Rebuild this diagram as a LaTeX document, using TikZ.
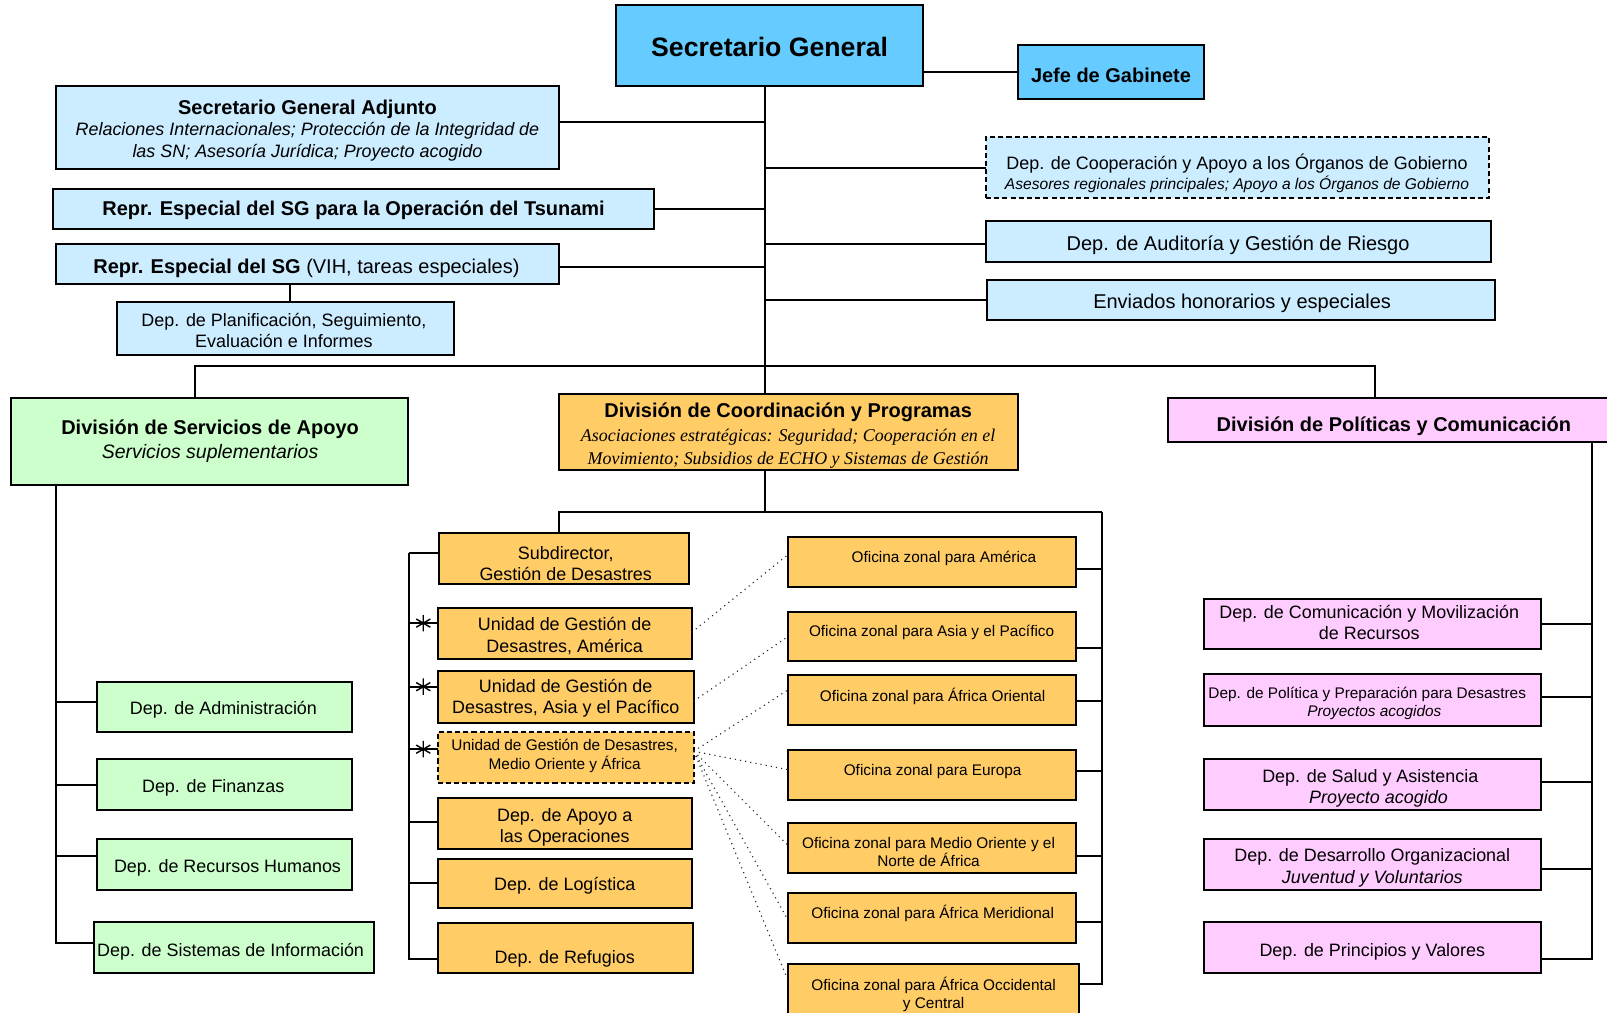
\documentclass[tikz,border=0pt]{standalone}
\usepackage{fontspec}
\setmainfont{Liberation Sans}
\newfontfamily\tms{Liberation Serif}
\usetikzlibrary{calc}
\definecolor{sgblue}{HTML}{66CCFF}
\definecolor{ltblue}{HTML}{CCECFF}
\definecolor{ltgreen}{HTML}{CCFFCC}
\definecolor{orng}{HTML}{FFCC66}
\definecolor{pnk}{HTML}{FFCCFF}
\newcommand\fsz[2]{\fontsize{#1}{#2}\selectfont}
\newcommand\bfB{\fsz{9.75}{11}\bfseries}
\newcommand\rgB{\fsz{9.75}{11}}
\newcommand\rgA{\fsz{8.75}{10.5}}
\newcommand\smA{\fsz{7.5}{9}}
\newcommand\mkbox[6]{\node[#2, minimum width={(#5-#3)*0.5pt}, minimum height={(#6-#4)*0.5pt}] (#1) at (#3,#4) {};}
\tikzset{
  bx/.style={draw, line width=1pt, inner sep=0pt, outer sep=0pt, anchor=north west},
  sgbox/.style={bx, fill=sgblue},
  ltbox/.style={bx, fill=ltblue},
  grbox/.style={bx, fill=ltgreen},
  orbox/.style={bx, fill=orng},
  pkbox/.style={bx, fill=pnk},
  dashbox/.style={dash pattern=on 2.5pt off 1.5pt},
  tx/.style={align=center, inner sep=0pt},
  cn/.style={line width=1pt},
  dl/.style={dotted, line width=0.55pt, black!85},
  ast/.style={line width=0.7pt}
}
\begin{document}
\begin{tikzpicture}[x=0.5pt, y=-0.5pt]
\useasboundingbox (0,0) rectangle (1568,988);
% ---------- boxes ----------
\mkbox{SG}{sgbox}{601}{5}{901}{84}
\mkbox{Jefe}{sgbox}{993}{44}{1175}{97}
\mkbox{SGA}{ltbox}{55}{84}{545}{165}
\mkbox{Tsu}{ltbox}{52}{184}{638}{223}
\mkbox{Rep}{ltbox}{55}{238}{545}{277}
\mkbox{Plan}{ltbox}{114}{295}{443}{346}
\mkbox{Coop}{ltbox,dashbox}{962}{134}{1453}{193}
\mkbox{Aud}{ltbox}{962}{216}{1455}{256}
\mkbox{Env}{ltbox}{963}{273}{1459}{312}
\mkbox{DSA}{grbox}{11}{388}{398}{473}
\mkbox{DCP}{orbox}{545}{384}{993}{459}
\mkbox{DPC}{pkbox}{1140}{388}{1580}{431}
\mkbox{Adm}{grbox}{95}{665}{343}{714}
\mkbox{Fin}{grbox}{95}{741}{343}{790}
\mkbox{RH}{grbox}{95}{819}{343}{868}
\mkbox{SI}{grbox}{92}{900}{365}{949}
\mkbox{Sub}{orbox}{428}{520}{672}{570}
\mkbox{UA}{orbox}{427}{593}{675}{643}
\mkbox{UAs}{orbox}{427}{655}{677}{705}
\mkbox{UMO}{orbox,dashbox}{427}{714}{677}{764}
\mkbox{Apo}{orbox}{427}{779}{675}{828}
\mkbox{Log}{orbox}{427}{838}{675}{886}
\mkbox{Ref}{orbox}{427}{901}{676}{949}
\mkbox{OAm}{orbox}{769}{524}{1050}{573}
\mkbox{OAs}{orbox}{769}{597}{1050}{645}
\mkbox{OAO}{orbox}{769}{659}{1050}{707}
\mkbox{OEu}{orbox}{769}{732}{1050}{781}
\mkbox{OMO}{orbox}{769}{803}{1050}{852}
\mkbox{OMe}{orbox}{769}{871}{1050}{920}
\mkbox{OOc}{orbox}{769}{941}{1053}{1000}
\mkbox{Com}{pkbox}{1175}{584}{1504}{633}
\mkbox{Pol}{pkbox}{1175}{658}{1504}{708}
\mkbox{Sal}{pkbox}{1175}{741}{1504}{790}
\mkbox{Des}{pkbox}{1175}{819}{1504}{868}
\mkbox{Pri}{pkbox}{1175}{900}{1504}{949}
% ---------- connectors ----------
\coordinate (tr) at (746,200);
\draw[cn] (SG.south -| tr) -- (DCP.north -| tr);
\draw[cn] (Jefe.west) -- (Jefe.west -| SG.east);
\draw[cn] ($(SGA.east)+(0,-5)$) -| (tr);
\draw[cn] (Tsu.east) -| (tr);
\draw[cn] ($(Rep.east)+(0,3)$) -| (tr);
\draw[cn] (Coop.west) -| (tr);
\draw[cn] ($(Aud.west)+(0,2)$) -| (tr);
\draw[cn] (Env.west) -| (tr);
\coordinate (pc) at (283,286);
\draw[cn] (Rep.south -| pc) -- (Plan.north -| pc);
\coordinate (bL) at (190,357);
\coordinate (bR) at (1342,357);
\draw[cn] (DSA.north -| bL) -- (bL) -- (bR) -- (DPC.north -| bR);
% DSA bus
\coordinate (db) at (55,473);
\draw[cn] ($(Adm.west)+(0,-4.5)$) -| (db);
\draw[cn] (Fin.west) -| (db);
\draw[cn] ($(RH.west)+(0,-8.5)$) -| (db);
\draw[cn] ($(SI.west)+(0,-4.5)$) -| (db);
% DCP lower bus
\coordinate (c2) at (746,500);
\coordinate (c2L) at (545,500);
\coordinate (c2R) at (1075,500);
\draw[cn] (DCP.south -| c2) -- (c2);
\draw[cn] (Sub.north -| c2L) -- (c2L) -- (c2R);
\draw[cn] ($(OAm.east)+(0,6.5)$) -| (c2R);
\draw[cn] ($(OAs.east)+(0,11)$) -| (c2R);
\draw[cn] ($(OAO.east)+(0,1)$) -| (c2R);
\draw[cn] ($(OEu.east)+(0,-4.5)$) -| (c2R);
\draw[cn] ($(OMO.east)+(0,7.5)$) -| (c2R);
\draw[cn] ($(OMe.east)+(0,4.5)$) -| (c2R);
\draw[cn] ($(OOc.east)+(0,-10.5)$) -| (c2R);
% left bus of coordination
\coordinate (lb) at (399,540);
\draw[cn] ($(Sub.west)+(0,-5)$) -| (lb);
\draw[cn] ($(UA.west)+(0,-10)$) -| (lb);
\draw[cn] ($(UAs.west)+(0,-10)$) -| (lb);
\draw[cn] ($(UMO.west)+(0,-8)$) -| (lb);
\draw[cn] ($(Apo.west)+(0,-1.5)$) -| (lb);
\draw[cn] (Log.west) -| (lb);
\draw[cn] ($(Ref.west)+(0,11)$) -| (lb);
% policy bus
\coordinate (pb) at (1553,431);
\draw[cn] (Com.east) -| (pb);
\draw[cn] ($(Pol.east)+(0,-3)$) -| (pb);
\draw[cn] ($(Sal.east)+(0,-2.5)$) -| (pb);
\draw[cn] ($(Des.east)+(0,4.5)$) -| (pb);
\draw[cn] ($(Pri.east)+(0,11.5)$) -| (pb);
% dotted links
\draw[dl] ($(UA.east)+(0,-1)$) -- ($(OAm.west)+(0,-7.5)$);
\draw[dl] ($(UAs.east)+(0,4)$) -- (OAs.west);
\foreach \n/\o in {OAO/-10, OEu/-5.5, OMO/-2.5, OMe/2.5, OOc/-13.5}
  \draw[dl] ($(UMO.east)+(0,-6)$) -- ($(\n.west)+(0,\o)$);
% asterisks
\foreach \n/\o in {UA/-10, UAs/-10, UMO/-8}
  \draw[ast] ($(\n.west)+(-14,\o)$) +(0,-8) -- +(0,8) +(-6.9,-4) -- +(6.9,4) +(-6.9,4) -- +(6.9,-4);
% ---------- texts ----------
\begin{scope}[shift={(0,2.5)}]
\node[tx,font={\fsz{13}{15}\bfseries}] (tSG) at (751,43) {Secretario General};
\node[tx,font=\bfB] (tJefe) at (1084,71) {Jefe de Gabinete};
\node[tx,font=\bfB] (tSGA) at (300,104) {Secretario General Adjunto};
\node[tx,font={\fsz{8.75}{10.75}\itshape}] (tSGA2) at (300,136) {Relaciones Internacionales; Protección de la Integridad de\\las SN; Asesoría Jurídica; Proyecto acogido};
\node[tx,font=\bfB] (tTsu) at (345,203) {Repr. Especial del SG para la Operación del Tsunami};
\node[tx,font=\rgB] (tRep) at (299,259) {{\bfseries Repr. Especial del SG} (VIH, tareas especiales)};
\node[tx,font=\rgA] (tPlan) at (277,320) {Dep. de Planificación, Seguimiento,\\Evaluación e Informes};
\node[tx,font=\rgA] (tCoop) at (1207,157) {Dep. de Cooperación y Apoyo a los Órganos de Gobierno};
\node[tx,font={\fsz{7.6}{9}\itshape}] (tCoop2) at (1207,177) {Asesores regionales principales; Apoyo a los Órganos de Gobierno};
\node[tx,font=\rgB] (tAud) at (1208,237) {Dep. de Auditoría y Gestión de Riesgo};
\node[tx,font=\rgB] (tEnv) at (1212,293) {Enviados honorarios y especiales};
\node[tx,font=\bfB] (tDSA) at (205,416) {División de Servicios de Apoyo};
\node[tx,font={\fsz{9.5}{11}\itshape}] (tDSA2) at (205,440) {Servicios suplementarios};
\node[tx,font=\bfB] (tDCP) at (769,400) {División de Coordinación y Programas};
\node[tx,font={\fsz{8.75}{11.5}\tms\itshape}] (tDCP2) at (769,435.5) {Asociaciones estratégicas: Seguridad; Cooperación en el\\Movimiento; Subsidios de ECHO y Sistemas de Gestión};
\node[tx,font=\bfB] (tDPC) at (1360,413) {División de Políticas y Comunicación};
\node[tx,font=\rgA] (tAdm) at (218,690) {Dep. de Administración};
\node[tx,font=\rgA] (tFin) at (208,766) {Dep. de Finanzas};
\node[tx,font=\rgA] (tRH) at (222,844) {Dep. de Recursos Humanos};
\node[tx,font=\rgA] (tSI) at (225,926) {Dep. de Sistemas de Información};
\node[tx,font=\rgA] (tSub) at (552,547.5) {Subdirector,\\Gestión de Desastres};
\node[tx,font=\rgA] (tUA) at (551,618) {Unidad de Gestión de\\Desastres, América};
\node[tx,font=\rgA] (tUAs) at (552,679) {Unidad de Gestión de\\Desastres, Asia y el Pacífico};
\node[tx,font={\fsz{7.5}{9.5}}] (tUMO) at (551,735) {Unidad de Gestión de Desastres,\\Medio Oriente y África};
\node[tx,font={\fsz{8.75}{10}}] (tApo) at (551,805) {Dep. de Apoyo a\\las Operaciones};
\node[tx,font=\rgA] (tLog) at (551,862) {Dep. de Logística};
\node[tx,font=\rgA] (tRef) at (551,933) {Dep. de Refugios};
\node[tx,font=\smA] (tOAm) at (921,542) {Oficina zonal para América};
\node[tx,font=\smA] (tOAs) at (909,615) {Oficina zonal para Asia y el Pacífico};
\node[tx,font=\smA] (tOAO) at (910,677) {Oficina zonal para África Oriental};
\node[tx,font=\smA] (tOEu) at (910,750) {Oficina zonal para Europa};
\node[tx,font=\smA] (tOMO) at (906,829) {Oficina zonal para Medio Oriente y el\\Norte de África};
\node[tx,font=\smA] (tOMe) at (910,889) {Oficina zonal para África Meridional};
\node[tx,font=\smA] (tOOc) at (911,968) {Oficina zonal para África Occidental\\y Central};
\node[tx,font=\rgA] (tCom) at (1336,605) {Dep. de Comunicación y Movilización\\de Recursos};
\node[tx,font=\smA] (tPol) at (1334,675) {Dep. de Política y Preparación para Desastres};
\node[tx,font={\smA\itshape}] (tPol2) at (1341,693) {Proyectos acogidos};
\node[tx,font=\rgA] (tSal) at (1337,756) {Dep. de Salud y Asistencia};
\node[tx,font={\rgA\itshape}] (tSal2) at (1345,777) {Proyecto acogido};
\node[tx,font=\rgA] (tDes) at (1339,834) {Dep. de Desarrollo Organizacional};
\node[tx,font={\rgA\itshape}] (tDes2) at (1339,855) {Juventud y Voluntarios};
\node[tx,font=\rgA] (tPri) at (1339,926) {Dep. de Principios y Valores};
\end{scope}
\end{tikzpicture}
\end{document}
